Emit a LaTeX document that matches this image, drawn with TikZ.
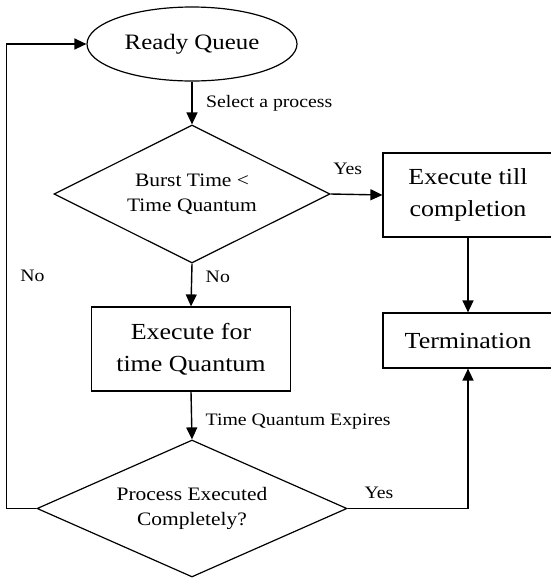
\documentclass[tikz,border=0pt]{standalone}
\usepackage{fontspec}
\setmainfont{Liberation Serif}[FakeStretch=1.13]
\usetikzlibrary{shapes.geometric,arrows.meta,positioning}

\tikzset{
	box/.style = {draw = black,
				  shape = rectangle,
				  align = center,
				  font = \fontsize{23}{32}\selectfont},
	decision/.style = {draw = black,
					   shape = diamond,
					   align = center,
					   inner sep = 0pt,
					   font = \fontsize{19}{25}\selectfont},
	lbl/.style = {font = \fontsize{17.5}{20}\selectfont},
	flow/.style = {-{Triangle[length = 12pt, width = 11pt]},
				   line width = 1.4pt}
}

\begin{document}
\begin{tikzpicture}[x = 1pt, y = -1pt, line width = 1.2pt]

	\clip (0,0) rectangle (551,579);

	\draw (192,44) node[draw = black,
					 shape = ellipse,
					 minimum width = 210pt,
					 minimum height = 74pt,
					 font = \fontsize{22}{26}\selectfont] (RQ) {Ready Queue};

	\draw (192,194) node[decision,
					 aspect = 2,
					 minimum width = 276pt,
					 minimum height = 138pt] (BT) {Burst Time <\\Time Quantum};

	\draw (468,195) node[box,
					 minimum width = 170pt,
					 minimum height = 84pt] (ETC) {Execute till\\completion};

	\draw (468,340.5) node[box,
					 minimum width = 170pt,
					 minimum height = 55pt] (T) {Termination};

	\draw (191,349) node[box,
					 minimum width = 199pt,
					 minimum height = 84pt] (EFQ) {Execute for\\time Quantum};

	\draw (192,508.5) node[decision,
					 aspect = 2.26,
					 minimum width = 310pt,
					 minimum height = 137pt] (PEC) {Process Executed\\Completely?};

	% main flow
	\draw[flow] (RQ.south) -- (BT.north)
		node[lbl, midway, right = 10pt] {Select a process};
	\draw[flow] (BT.east) -- (ETC.west)
		node[lbl, pos = 0.33, above = 16pt] {Yes};
	\draw[flow] (BT.south) -- (EFQ.north)
		node[lbl, pos = 0.3, right = 10pt] {No};
	\draw[flow] (ETC.south) -- (T.north);
	\draw[flow] (EFQ.south) -- (PEC.north)
		node[lbl, pos = 0.62, right = 10pt] {Time Quantum Expires};

	% the two ways out of the last test
	\draw[flow] (PEC.east) -| (T.south)
		node[lbl, pos = 0.13, above = 6pt] {Yes};
	\draw[flow] (PEC.west) -- ++(-30,0) |- (RQ.west)
		node[lbl, pos = 0.25, right = 10pt] {No};
\end{tikzpicture}
\end{document}
